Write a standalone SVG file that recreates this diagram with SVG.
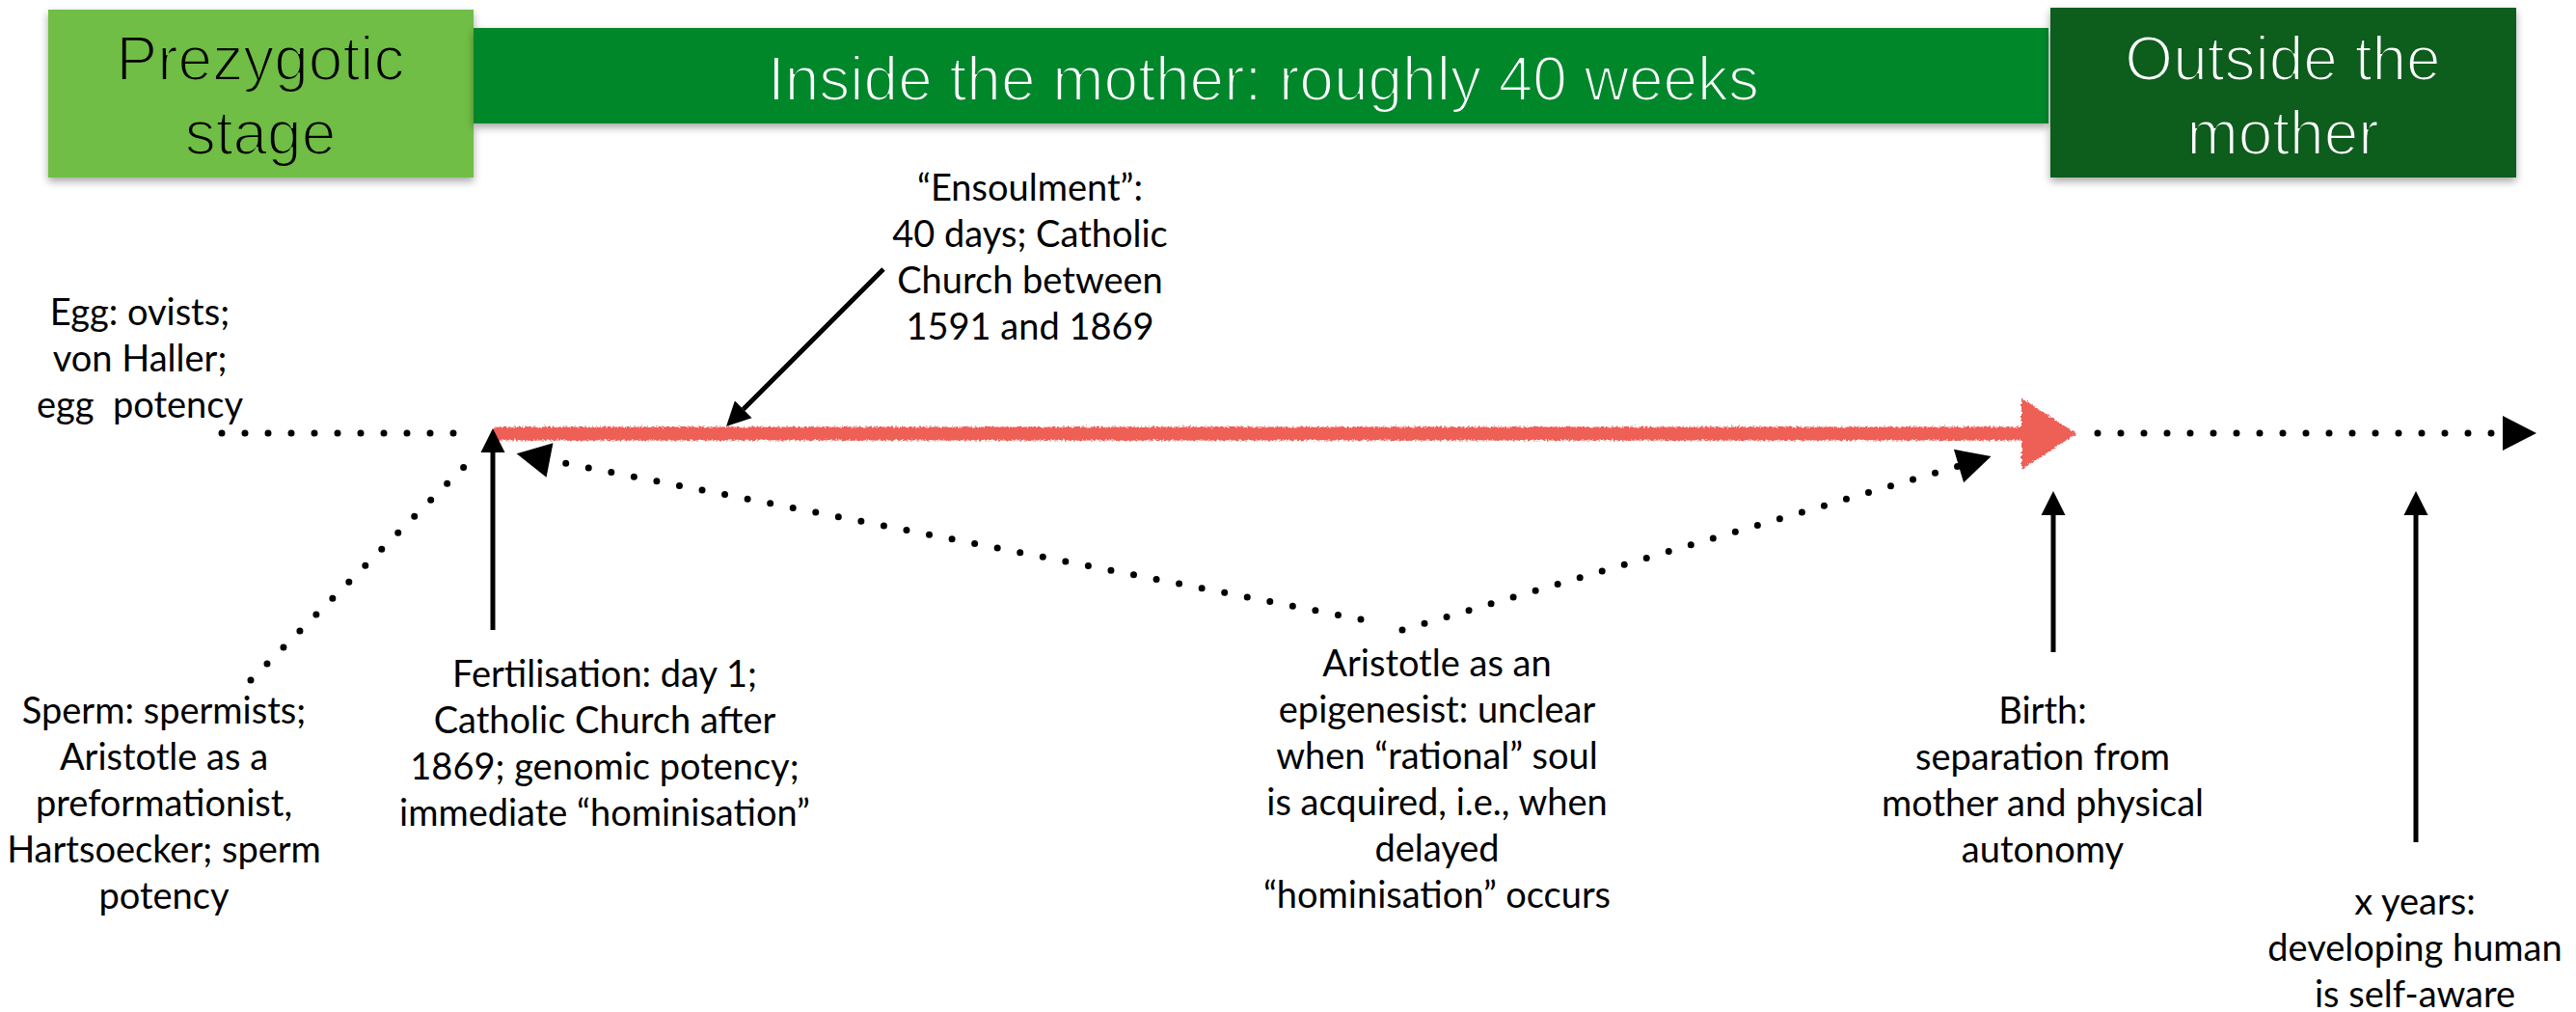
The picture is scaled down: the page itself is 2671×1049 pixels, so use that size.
<svg xmlns="http://www.w3.org/2000/svg" width="2671" height="1049" viewBox="0 0 2671 1049">
<style>
.title{font-family:"Liberation Sans",Arial,sans-serif;font-size:64px;text-anchor:middle;stroke-width:2.2px}
.lbl{font-family:Lato,"Open Sans",sans-serif;font-size:38px;text-anchor:middle;fill:#000}
.dot{fill:none;stroke:#000;stroke-width:7;stroke-linecap:round;stroke-dasharray:0 24}
.solid{fill:none;stroke:#000;stroke-width:5}
</style>
<defs>
<filter id="shadow" x="-10%" y="-10%" width="120%" height="130%">
<feDropShadow dx="0" dy="4" stdDeviation="4" flood-color="#000" flood-opacity="0.35"/>
</filter>
<filter id="rough" filterUnits="userSpaceOnUse" x="490" y="395" width="1700" height="110">
<feTurbulence type="fractalNoise" baseFrequency="0.45" numOctaves="2" seed="4" result="n"/>
<feDisplacementMap in="SourceGraphic" in2="n" scale="5" xChannelSelector="R" yChannelSelector="G"/>
</filter>
<marker id="ah" markerUnits="userSpaceOnUse" markerWidth="26" markerHeight="26" refX="0" refY="12.5" orient="auto" overflow="visible">
<path d="M0,0 L25,12.5 L0,25 z" fill="#000"/>
</marker>
<marker id="dh" markerUnits="userSpaceOnUse" markerWidth="36" markerHeight="36" refX="0" refY="18" orient="auto" overflow="visible">
<path d="M0,0 L35,18 L0,36 z" fill="#000"/>
</marker>
<marker id="rh" markerUnits="userSpaceOnUse" markerWidth="58" markerHeight="75" refX="0" refY="37" orient="auto" overflow="visible">
<path d="M0,0 L57,37 L0,74 z" fill="#EE5E57"/>
</marker>
</defs>
<rect width="2671" height="1049" fill="#fff"/>

<g id="prezygotic">
<rect x="50" y="10" width="441" height="174" fill="#6FBE44" filter="url(#shadow)"/>
<text class="title" x="270" y="83" fill="#000" stroke="#6FBE44">Prezygotic</text>
<text class="title" x="270" y="160" fill="#000" stroke="#6FBE44">stage</text>
</g>
<g id="inside">
<rect x="491" y="29" width="1633" height="99" fill="#00872C" filter="url(#shadow)"/>
<text class="title" x="1310" y="104" fill="#fff" stroke="#00872C">Inside the mother: roughly 40 weeks</text>
</g>
<g id="outside">
<rect x="2126" y="8" width="483" height="176" fill="#0E5D1D" filter="url(#shadow)"/>
<text class="title" x="2367" y="83" fill="#fff" stroke="#0E5D1D">Outside the</text>
<text class="title" x="2367" y="160" fill="#fff" stroke="#0E5D1D">mother</text>
</g>

<g id="timeline">
<g filter="url(#rough)">
<path d="M511,449.5 L2096,449.5" fill="none" stroke="#EE5E57" stroke-width="14" marker-end="url(#rh)"/>
</g>
</g>

<g id="connectors">
<path class="dot" d="M230,449 L471,449"/>
<path class="dot" d="M2175,449 L2595,449" marker-end="url(#dh)"/>
<path class="dot" d="M260,705 L481,484"/>
<path class="dot" d="M1411,642 L570,477" marker-end="url(#dh)"/>
<path class="dot" d="M1454,653 L2031,483" marker-end="url(#dh)"/>
<path class="solid" d="M511,653 L511,469" marker-end="url(#ah)"/>
<path class="solid" d="M916,279 L770.7,424.3" marker-end="url(#ah)"/>
<path class="solid" d="M2129,676 L2129,534" marker-end="url(#ah)"/>
<path class="solid" d="M2505,873 L2505,534" marker-end="url(#ah)"/>
</g>

<g id="egg">
<text class="lbl" xml:space="preserve" style="white-space:pre"><tspan x="145" y="337">Egg: ovists;</tspan><tspan x="145" y="385">von Haller;</tspan><tspan x="145" y="433">egg  potency</tspan></text>
</g>
<g id="ensoulment">
<text class="lbl"><tspan x="1068" y="208">“Ensoulment”:</tspan><tspan x="1068" y="256">40 days; Catholic</tspan><tspan x="1068" y="304">Church between</tspan><tspan x="1068" y="352">1591 and 1869</tspan></text>
</g>
<g id="sperm">
<text class="lbl"><tspan x="170" y="750">Sperm: spermists;</tspan><tspan x="170" y="798">Aristotle as a</tspan><tspan x="170" y="846">preformationist,</tspan><tspan x="170" y="894">Hartsoecker; sperm</tspan><tspan x="170" y="942">potency</tspan></text>
</g>
<g id="fertilisation">
<text class="lbl"><tspan x="627" y="712">Fertilisation: day 1;</tspan><tspan x="627" y="760">Catholic Church after</tspan><tspan x="627" y="808">1869; genomic potency;</tspan><tspan x="627" y="856">immediate “hominisation”</tspan></text>
</g>
<g id="aristotle">
<text class="lbl"><tspan x="1490" y="701">Aristotle as an</tspan><tspan x="1490" y="749">epigenesist: unclear</tspan><tspan x="1490" y="797">when “rational” soul</tspan><tspan x="1490" y="845">is acquired, i.e., when</tspan><tspan x="1490" y="893">delayed</tspan><tspan x="1490" y="941">“hominisation” occurs</tspan></text>
</g>
<g id="birth">
<text class="lbl"><tspan x="2118" y="750">Birth:</tspan><tspan x="2118" y="798">separation from</tspan><tspan x="2118" y="846">mother and physical</tspan><tspan x="2118" y="894">autonomy</tspan></text>
</g>
<g id="xyears">
<text class="lbl"><tspan x="2504" y="948">x years:</tspan><tspan x="2504" y="996">developing human</tspan><tspan x="2504" y="1044">is self-aware</tspan></text>
</g>
</svg>
